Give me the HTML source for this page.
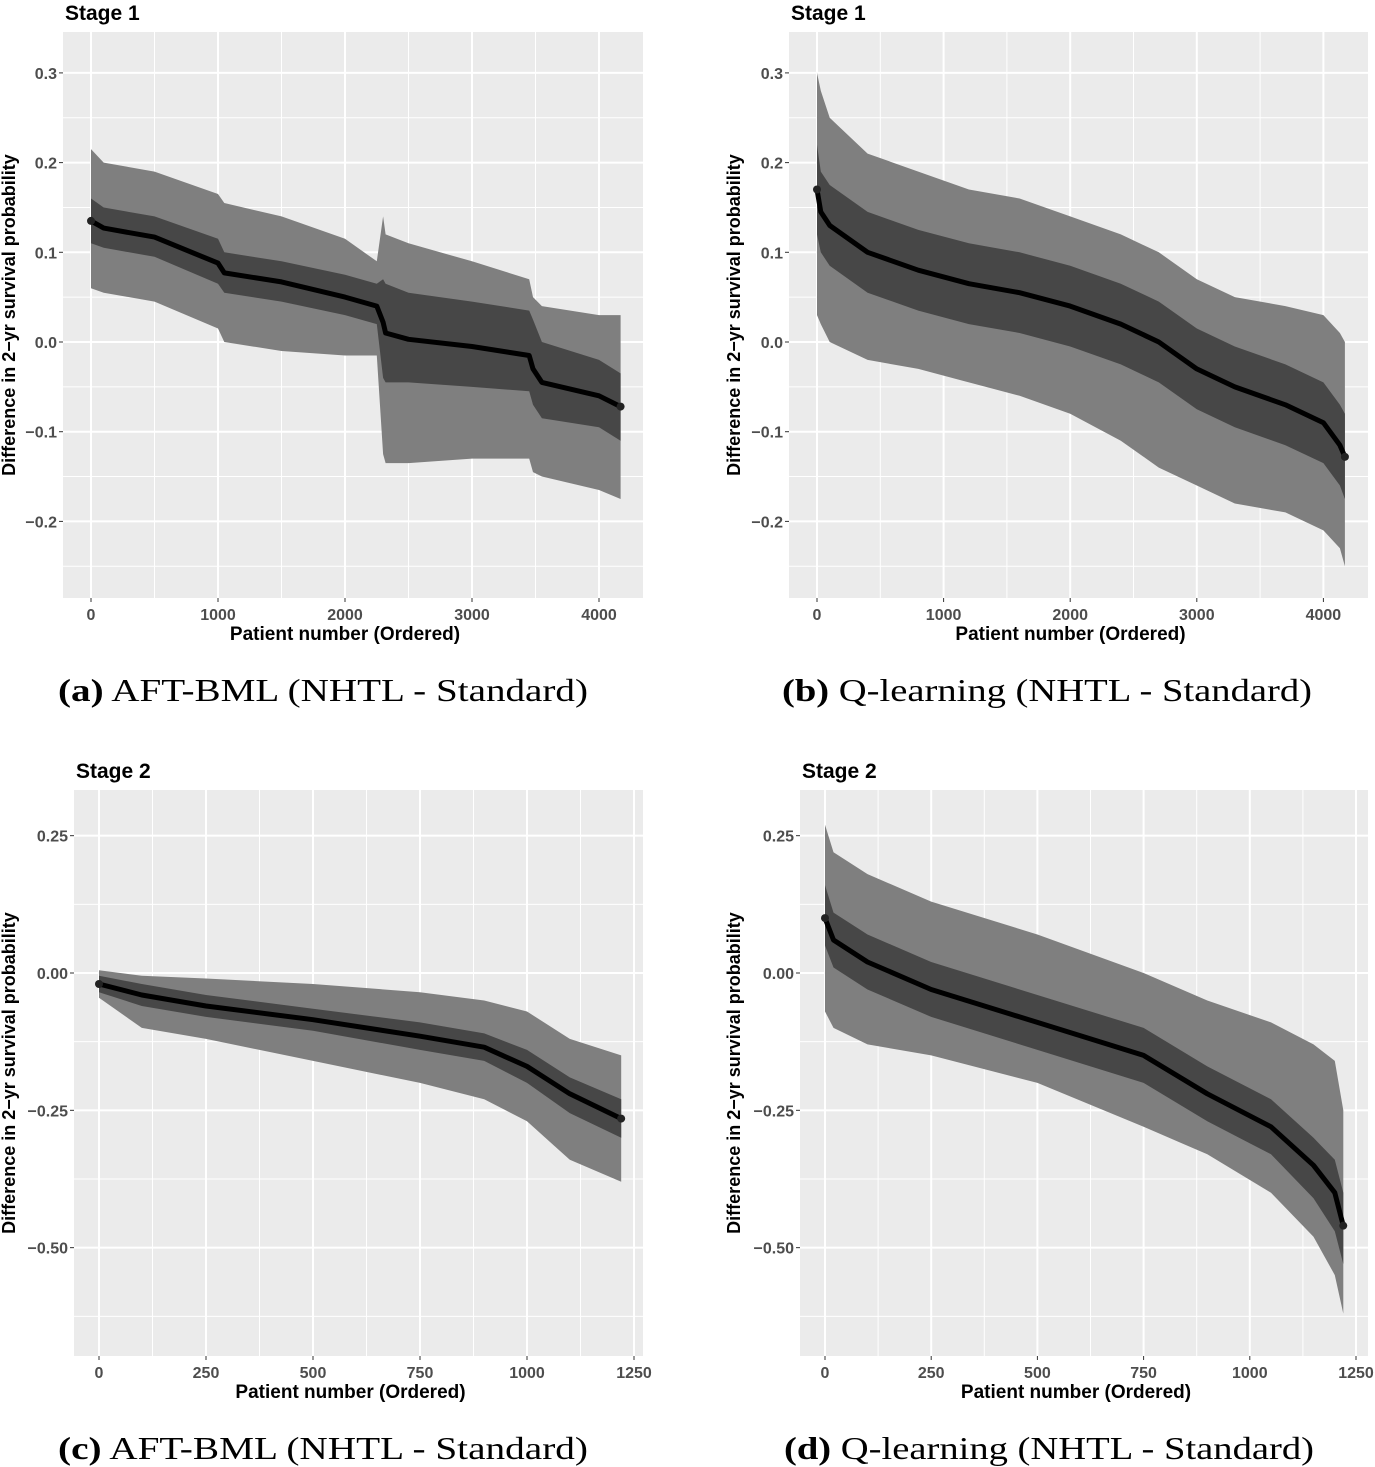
<!DOCTYPE html>
<html><head><meta charset="utf-8"><style>
html,body{margin:0;padding:0;background:#fff;width:1375px;height:1467px;overflow:hidden}
svg{display:block}
.cap{font-family:"Liberation Serif",serif;font-size:32px;fill:#000}
</style></head><body>
<svg id="fig" width="1375" height="1467">
<text class="cap" x="58" y="701" textLength="530" lengthAdjust="spacingAndGlyphs"><tspan font-weight="bold">(a)</tspan> AFT-BML (NHTL - Standard)</text>
<text class="cap" x="782" y="701" textLength="530" lengthAdjust="spacingAndGlyphs"><tspan font-weight="bold">(b)</tspan> Q-learning (NHTL - Standard)</text>
<text class="cap" x="58" y="1459" textLength="530" lengthAdjust="spacingAndGlyphs"><tspan font-weight="bold">(c)</tspan> AFT-BML (NHTL - Standard)</text>
<text class="cap" x="784" y="1459" textLength="530" lengthAdjust="spacingAndGlyphs"><tspan font-weight="bold">(d)</tspan> Q-learning (NHTL - Standard)</text>
</svg>
<script>
// Panel (a)
const aX = [0,100,500,1000,1050,1500,2000,2250,2300,2320,2500,3000,3450,3480,3550,4000,4170];
const aMean = [.135,.127,.117,.088,.077,.067,.050,.040,.022,.010,.003,-.005,-.015,-.030,-.045,-.060,-.072];
const aInHi = [.16,.15,.14,.115,.10,.09,.075,.065,.07,.065,.055,.045,.035,.025,.0,-.02,-.035];
const aInLo = [.11,.105,.095,.065,.055,.045,.03,.02,-.04,-.045,-.045,-.05,-.055,-.07,-.085,-.095,-.11];
const aOutHi = [.215,.20,.19,.165,.155,.14,.115,.09,.14,.12,.11,.09,.07,.05,.04,.03,.03];
const aOutLo = [.06,.055,.045,.015,.0,-.01,-.015,-.015,-.125,-.135,-.135,-.13,-.13,-.145,-.15,-.165,-.175];
// Panel (b)
const bX = [0,30,100,400,800,1200,1600,2000,2400,2700,3000,3300,3700,4000,4130,4170];
const bMean = [.17,.145,.13,.10,.08,.065,.055,.04,.02,.0,-.03,-.05,-.07,-.09,-.115,-.128];
const bInHi = [.22,.19,.175,.145,.125,.11,.10,.085,.065,.045,.015,-.005,-.025,-.045,-.07,-.08];
const bInLo = [.12,.10,.085,.055,.035,.02,.01,-.005,-.025,-.045,-.075,-.095,-.115,-.135,-.16,-.175];
const bOutHi = [.30,.28,.25,.21,.19,.17,.16,.14,.12,.10,.07,.05,.04,.03,.01,.0];
const bOutLo = [.03,.02,.0,-.02,-.03,-.045,-.06,-.08,-.11,-.14,-.16,-.18,-.19,-.21,-.23,-.25];
// Panel (c)
const cX = [0,100,250,500,750,900,1000,1100,1220];
const cMean = [-.02,-.04,-.06,-.085,-.115,-.135,-.17,-.22,-.265];
const cInHi = [-.005,-.02,-.04,-.065,-.09,-.11,-.14,-.19,-.23];
const cInLo = [-.035,-.06,-.08,-.105,-.14,-.16,-.20,-.255,-.30];
const cOutHi = [.005,-.005,-.01,-.02,-.035,-.05,-.07,-.12,-.15];
const cOutLo = [-.045,-.10,-.12,-.16,-.20,-.23,-.27,-.34,-.38];
// Panel (d)
const dX = [0,20,100,250,500,750,900,1050,1150,1200,1220];
const dMean = [.10,.06,.02,-.03,-.09,-.15,-.22,-.28,-.35,-.40,-.46];
const dInHi = [.16,.11,.07,.02,-.04,-.10,-.17,-.23,-.30,-.34,-.40];
const dInLo = [.05,.01,-.03,-.08,-.14,-.20,-.27,-.33,-.41,-.47,-.53];
const dOutHi = [.27,.22,.18,.13,.07,.0,-.05,-.09,-.13,-.16,-.25];
const dOutLo = [-.07,-.10,-.13,-.15,-.20,-.28,-.33,-.40,-.48,-.55,-.62];

const yTicksA = [0.3,0.2,0.1,0.0,-0.1,-0.2];
const yTickLabelsA = ["0.3","0.2","0.1","0.0","\u22120.1","\u22120.2"];
const yTicksC = [0.25,0,-0.25,-0.5];
const yTickLabelsC = ["0.25","0.00","\u22120.25","\u22120.50"];
const xTicksA = [0,1000,2000,3000,4000];
const xTicksC = [0,250,500,750,1000,1250];

const NS = "http://www.w3.org/2000/svg";
const fig = document.getElementById('fig');
function mk(tag, attrs, parent){const e=document.createElementNS(NS,tag);for(const k in attrs)e.setAttribute(k,attrs[k]);(parent||fig).appendChild(e);return e;}

function panel(p){
  const g = mk('g',{});
  
  
  const sx = v => p.x0px + (v - p.x0v) * p.xs;
  const sy = v => p.y0px - (v - p.y0v) * p.ys;
  const bg = mk('rect',{x:p.L,y:p.T,width:p.R-p.L,height:p.B-p.T,fill:'#ebebeb'},g);
  
  
  const ystep = p.yt[0]-p.yt[1];
  for(let i=0;i<p.yt.length+2;i++){const v=p.yt[0]+ystep/2 - i*ystep; const y=sy(v); if(y>p.T&&y<p.B) mk('line',{x1:p.L,x2:p.R,y1:y,y2:y,stroke:'#fff','stroke-width':1},g);}
  const xstep = p.xt[1]-p.xt[0];
  for(let i=-1;i<p.xt.length+1;i++){const v=p.xt[0]+xstep/2+i*xstep; const x=sx(v); if(x>p.L&&x<p.R) mk('line',{x1:x,x2:x,y1:p.T,y2:p.B,stroke:'#fff','stroke-width':1},g);}
  p.yt.forEach((v,i)=>{const y=sy(v);
    mk('line',{x1:p.L,x2:p.R,y1:y,y2:y,stroke:'#fff','stroke-width':2},g);
    mk('line',{x1:p.L-4,x2:p.L,y1:y,y2:y,stroke:'#333','stroke-width':1},g);
    const t=mk('text',{x:p.L-6,y:y+6,'text-anchor':'end','font-family':'Liberation Sans, sans-serif','font-size':16,'font-weight':'bold',fill:'#4d4d4d'},g);
    t.textContent=p.ytl[i];
    
    
  });
  p.xt.forEach(v=>{const x=sx(v);
    mk('line',{x1:x,x2:x,y1:p.T,y2:p.B,stroke:'#fff','stroke-width':2},g);
    mk('line',{x1:x,x2:x,y1:p.B,y2:p.B+4,stroke:'#333','stroke-width':1},g);
    const t=mk('text',{x:x,y:p.B+22,'text-anchor':'middle','font-family':'Liberation Sans, sans-serif','font-size':16,'font-weight':'bold',fill:'#4d4d4d'},g);
    t.textContent=String(v);
    
    
  });
  function band(lo,hi,col,name){
    let d='M'+p.xs_.map((v,i)=>sx(v).toFixed(1)+','+sy(hi[i]).toFixed(1)).join('L');
    for(let i=p.xs_.length-1;i>=0;i--) d+='L'+sx(p.xs_[i]).toFixed(1)+','+sy(lo[i]).toFixed(1);
    const e=mk('path',{d:d+'Z',fill:col},g);
    
    
  }
  band(p.oLo,p.oHi,'#7f7f7f','outer-interval-band');
  band(p.iLo,p.iHi,'#474747','inner-interval-band');
  const ln=mk('path',{d:'M'+p.xs_.map((v,i)=>sx(v).toFixed(1)+','+sy(p.m[i]).toFixed(1)).join('L'),fill:'none',stroke:'#000','stroke-width':5,'stroke-linejoin':'round'},g);
  
  
  [0,p.xs_.length-1].forEach(i=>mk('circle',{cx:sx(p.xs_[i]),cy:sy(p.m[i]),r:4,fill:'#222'},g));
  const ti=mk('text',{x:p.L+2,y:p.T-12,'font-family':'Liberation Sans, sans-serif','font-size':21,'font-weight':'bold',fill:'#000'},g);
  ti.textContent=p.title;
  
  
  const xt=mk('text',{x:(p.L+p.R)/2-8,y:p.B+42,'text-anchor':'middle','font-family':'Liberation Sans, sans-serif','font-size':19,'font-weight':'bold',fill:'#000'},g);
  xt.textContent='Patient number (Ordered)';
  
  
  const yc=(p.T+p.B)/2;
  const yt=mk('text',{x:p.ytx,y:yc,'text-anchor':'middle','font-family':'Liberation Sans, sans-serif','font-size':18,'font-weight':'bold',fill:'#000',transform:'rotate(-90 '+p.ytx+' '+yc+')'},g);
  yt.textContent='Difference in 2\u2212yr survival probability';
  
  
}
panel({id:'a',title:'Stage 1',L:63,R:643,T:32,B:598,x0px:91,x0v:0,xs:0.127,y0px:342,y0v:0,ys:897,yt:yTicksA,ytl:yTickLabelsA,xt:xTicksA,ytx:15,
  xs_:aX,m:aMean,iHi:aInHi,iLo:aInLo,oHi:aOutHi,oLo:aOutLo});
panel({id:'b',title:'Stage 1',L:789,R:1368,T:32,B:598,x0px:817,x0v:0,xs:0.1266,y0px:342,y0v:0,ys:897,yt:yTicksA,ytl:yTickLabelsA,xt:xTicksA,ytx:740,
  xs_:bX,m:bMean,iHi:bInHi,iLo:bInLo,oHi:bOutHi,oLo:bOutLo});
panel({id:'c',title:'Stage 2',L:74,R:643,T:790,B:1356,x0px:99,x0v:0,xs:0.428,y0px:973,y0v:0,ys:549.3,yt:yTicksC,ytl:yTickLabelsC,xt:xTicksC,ytx:15,
  xs_:cX,m:cMean,iHi:cInHi,iLo:cInLo,oHi:cOutHi,oLo:cOutLo});
panel({id:'d',title:'Stage 2',L:800,R:1368,T:790,B:1356,x0px:825,x0v:0,xs:0.4248,y0px:973,y0v:0,ys:549.3,yt:yTicksC,ytl:yTickLabelsC,xt:xTicksC,ytx:740,
  xs_:dX,m:dMean,iHi:dInHi,iLo:dInLo,oHi:dOutHi,oLo:dOutLo});
</script>
</body></html>
